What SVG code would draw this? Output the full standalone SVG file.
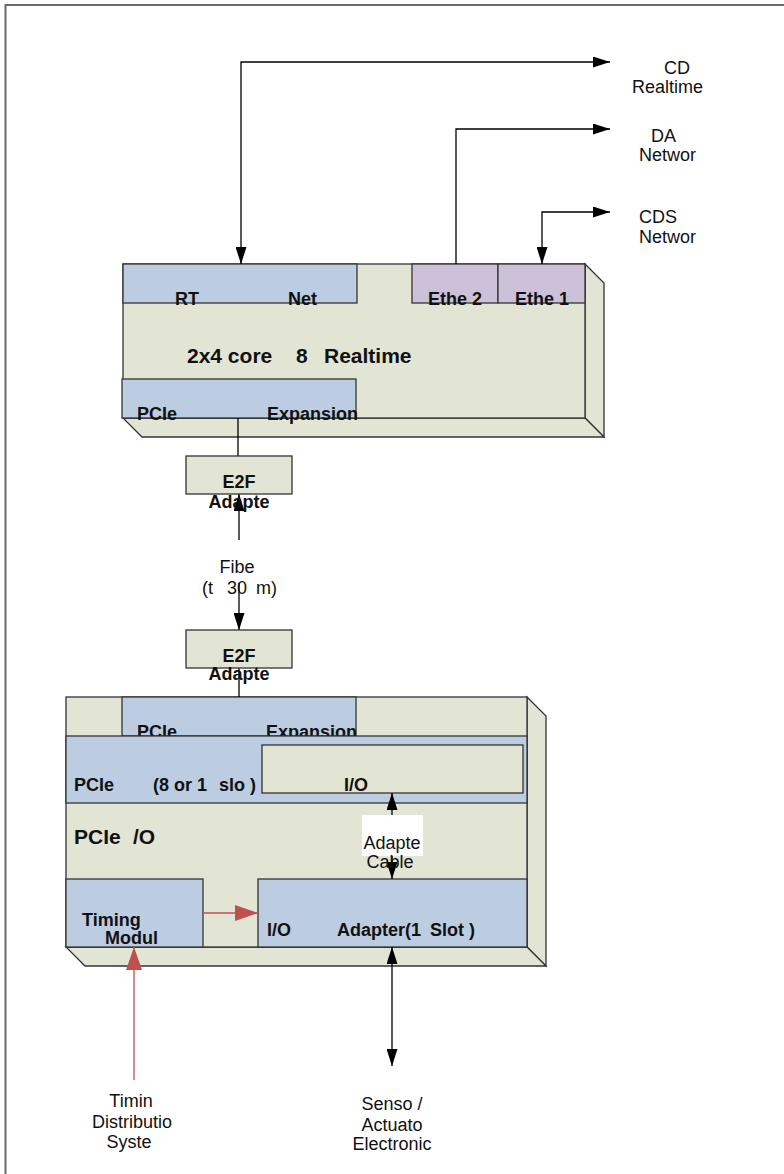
<svg xmlns="http://www.w3.org/2000/svg" width="784" height="1174" viewBox="0 0 784 1174">
<defs>
<style>
.frame{fill:#fff;stroke:#6a6a6a;stroke-width:2}
.kh{fill:#e2e5d4;stroke:#333;stroke-width:1.3}
.bl{fill:#bccde1;stroke:#333;stroke-width:1.3}
.pu{fill:#cdc0d9;stroke:#333;stroke-width:1.3}
.b{font-family:"Liberation Sans",Arial,sans-serif;font-weight:bold;font-size:18px;fill:#111}
.bb{font-family:"Liberation Sans",Arial,sans-serif;font-weight:bold;font-size:21px;fill:#111}
.r{font-family:"Liberation Sans",Arial,sans-serif;font-size:18px;fill:#111}
.c{text-anchor:middle}
.ln{fill:none;stroke:#000;stroke-width:1.3}
.red{fill:none;stroke:#c0504d;stroke-width:1.3}
</style>
<marker id="ah" viewBox="0 0 17 11" refX="17" refY="5.5" markerWidth="17" markerHeight="11" markerUnits="userSpaceOnUse" orient="auto-start-reverse">
<path d="M0,0 L17,5.5 L0,11 Z" fill="#000"/>
</marker>
<marker id="rh" viewBox="0 0 23 16" refX="23" refY="8" markerWidth="23" markerHeight="16" markerUnits="userSpaceOnUse" orient="auto">
<path d="M0,0 L23,8 L0,16 Z" fill="#c0504d"/>
</marker>
</defs>
<rect class="frame" x="5.5" y="5" width="820" height="1220"/>

<g id="realtime-box">
<polygon class="kh" points="585,264 604,283 604,437 585,418"/>
<polygon class="kh" points="123,418 585,418 604,437 142,437"/>
<rect class="kh" x="123" y="264" width="462" height="154"/>
<text class="bb" x="187" y="363">2x4 core</text>
<text class="bb" x="296" y="363">8</text>
<text class="bb" x="324" y="363">Realtime</text>
</g>
<g id="rt-net">
<rect class="bl" x="123" y="264" width="234" height="39"/>
<text class="b" x="175" y="305">RT</text>
<text class="b" x="288" y="305">Net</text>
</g>
<g id="ether2">
<rect class="pu" x="412" y="264" width="86" height="39"/>
<text class="b" x="428" y="305">Ethe 2</text>
</g>
<g id="ether1">
<rect class="pu" x="498" y="264" width="87" height="39"/>
<text class="b" x="515" y="305">Ethe 1</text>
</g>
<g id="pcie-expansion-top">
<rect class="bl" x="122" y="379" width="234" height="39"/>
<text class="b" x="137" y="420">PCIe</text>
<text class="b" x="267" y="420">Expansion</text>
</g>

<g id="io-chassis">
<polygon class="kh" points="527,697 546,716 546,966 527,947"/>
<polygon class="kh" points="66,947 527,947 546,966 85,966"/>
<rect class="kh" x="66" y="697" width="461" height="250"/>
<text class="bb" x="74" y="844">PCIe</text>
<text class="bb" x="133" y="844">/O</text>
</g>
<g id="pcie-expansion-bottom">
<rect class="bl" x="122" y="697" width="234" height="39"/>
<text class="b" x="137" y="738">PCIe</text>
<text class="b" x="266" y="738">Expansion</text>
</g>
<g id="pcie-slots">
<rect class="bl" x="66" y="736" width="461" height="67"/>
<text class="b" x="74" y="791">PCIe</text>
<text class="b" x="153" y="791">(8 or 1</text>
<text class="b" x="219" y="791">slo )</text>
</g>
<g id="io-card">
<rect class="kh" x="262" y="745" width="261" height="48"/>
<text class="b" x="344" y="791">I/O</text>
</g>
<g id="timing-module">
<rect class="bl" x="66" y="879" width="137" height="68"/>
<text class="b" x="82" y="926">Timing</text>
<text class="b" x="105" y="944">Modul</text>
</g>
<g id="io-adapter">
<rect class="bl" x="258" y="879" width="269" height="68"/>
<text class="b" x="267" y="936">I/O</text>
<text class="b" x="337" y="936">Adapter(1</text>
<text class="b" x="430" y="936">Slot )</text>
</g>

<g id="connectors">
<polyline class="ln" points="241,264 241,62 610,62" marker-start="url(#ah)" marker-end="url(#ah)"/>
<polyline class="ln" points="456,264 456,129 610,129" marker-end="url(#ah)"/>
<polyline class="ln" points="542,264 542,212 610,212" marker-start="url(#ah)" marker-end="url(#ah)"/>
<line class="ln" x1="238" y1="418" x2="238" y2="456"/>
<line class="ln" x1="239" y1="540" x2="239" y2="494" marker-end="url(#ah)"/>
<line class="ln" x1="239" y1="583" x2="239" y2="630" marker-end="url(#ah)"/>
<line class="ln" x1="239" y1="668" x2="239" y2="697"/>
<line class="ln" x1="392" y1="793" x2="392" y2="879" marker-start="url(#ah)" marker-end="url(#ah)"/>
<line class="red" x1="203" y1="913" x2="258" y2="913" marker-end="url(#rh)"/>
<line class="red" x1="134" y1="1080" x2="134" y2="947" marker-end="url(#rh)"/>
<line class="ln" x1="392" y1="947" x2="392" y2="1066" marker-start="url(#ah)" marker-end="url(#ah)"/>
</g>

<g id="e2f-top">
<rect class="kh" x="186" y="456" width="106" height="38"/>
<text class="b c" x="239" y="488">E2F</text>
<text class="b c" x="239" y="508">Adapte</text>
</g>
<g id="e2f-bottom">
<rect class="kh" x="186" y="630" width="106" height="38"/>
<text class="b c" x="239" y="662">E2F</text>
<text class="b c" x="239" y="680">Adapte</text>
</g>

<g id="labels">
<text class="r" x="664" y="74">CD</text>
<text class="r" x="632" y="93">Realtime</text>
<text class="r" x="651" y="142">DA</text>
<text class="r" x="639" y="161">Networ</text>
<text class="r" x="639" y="223">CDS</text>
<text class="r" x="639" y="243">Networ</text>
<text class="r c" x="237" y="573">Fibe</text>
<text class="r" x="202" y="594">(t</text>
<text class="r" x="227" y="594">30</text>
<text class="r" x="256" y="594">m)</text>
<rect x="362" y="815" width="61" height="41" fill="#fff"/>
<text class="r c" x="392" y="849">Adapte</text>
<text class="r c" x="390" y="868">Cable</text>
<text class="r c" x="131" y="1107">Timin</text>
<text class="r c" x="132" y="1128">Distributio</text>
<text class="r c" x="129" y="1148">Syste</text>
<text class="r c" x="392" y="1110">Senso /</text>
<text class="r c" x="392" y="1131">Actuato</text>
<text class="r c" x="392" y="1150">Electronic</text>
</g>
</svg>
